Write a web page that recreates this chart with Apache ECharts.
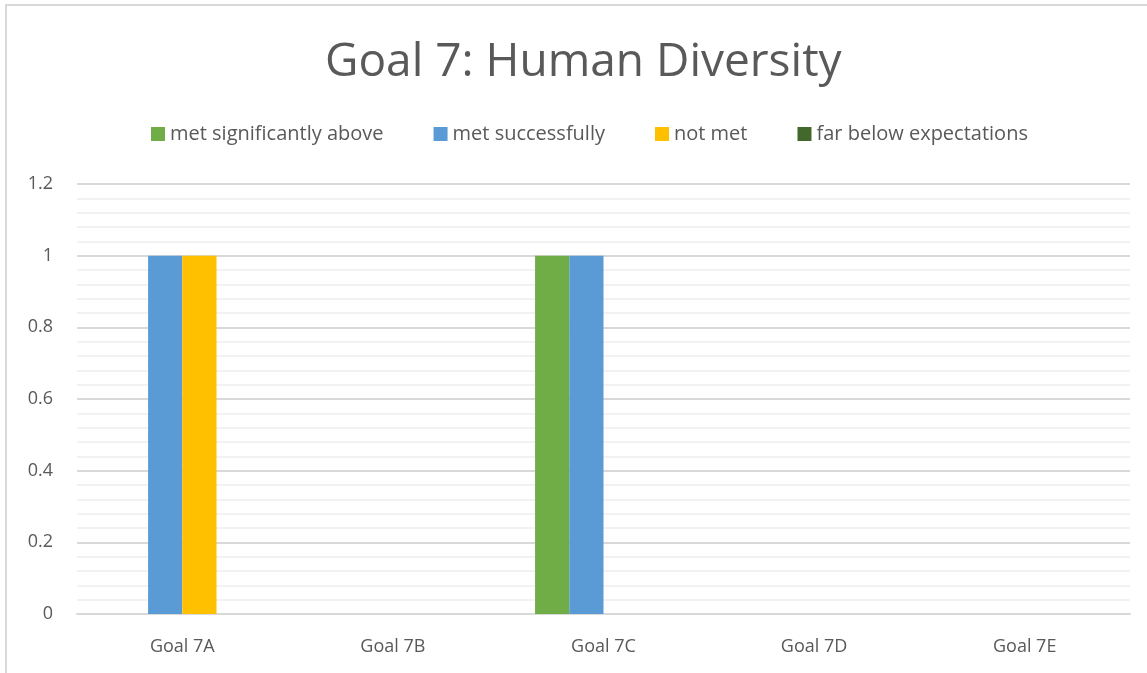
<!DOCTYPE html>
<html>
<head>
<meta charset="utf-8">
<script src="https://cdn.jsdelivr.net/npm/echarts@6/dist/echarts.min.js"></script>
<style>
  html, body { margin: 0; padding: 0; background: #fff; }
  #chart { width: 1147px; height: 673px; }
</style>
</head>
<body>
<div id="chart"></div>
<script>
  // 数据
  var categories = ['Goal 7A', 'Goal 7B', 'Goal 7C', 'Goal 7D', 'Goal 7E']
  var seriesNames = ['met significantly above', 'met successfully', 'not met', 'far below expectations']
  var metAbove = [0, 0, 1, 0, 0]
  var metSuccess = [1, 0, 1, 0, 0]
  var notMet = [1, 0, 0, 0, 0]
  var farBelow = [0, 0, 0, 0, 0]
  var colors = ['#70ad47', '#5b9bd5', '#ffc000', '#43682b']

  var myChart = echarts.init(document.getElementById('chart'))
  var textColor = '#595959'
  var font = 'Open Sans'

  function bar(name, data) {
    return {
      name: name,
      type: 'bar',
      barGap: 0,
      barCategoryGap: '35%',
      data: data
    }
  }

  var option = {
    color: colors,
    animation: false,
    title: {
      text: 'Goal 7: Human Diversity',
      left: 320,
      top: 35,
      textStyle: {
        fontFamily: font,
        fontWeight: 'normal',
        fontSize: 46,
        color: textColor
      }
    },
    legend: {
      top: 119,
      left: 146,
      itemWidth: 14,
      itemHeight: 14,
      itemGap: 50,
      icon: 'rect',
      textStyle: {
        fontFamily: font,
        fontSize: 20,
        color: textColor
      },
      data: seriesNames
    },
    grid: {
      left: 77,
      right: 17,
      top: 184,
      bottom: 59
    },
    xAxis: {
      type: 'category',
      data: categories,
      axisLine: { show: true, lineStyle: { color: '#d9d9d9', width: 2 } },
      axisTick: { show: false },
      axisLabel: {
        margin: 24,
        fontFamily: font,
        fontSize: 18,
        color: textColor
      }
    },
    yAxis: {
      type: 'value',
      min: 0,
      max: 1.2,
      interval: 0.2,
      axisLine: { show: false },
      axisTick: { show: false },
      axisLabel: {
        margin: 24,
        fontFamily: font,
        fontSize: 18,
        color: textColor
      },
      splitLine: { show: true, lineStyle: { color: '#d9d9d9', width: 2 } },
      minorTick: { show: false, splitNumber: 5 },
      minorSplitLine: { show: true, lineStyle: { color: '#f2f2f2', width: 2 } }
    },
    series: [
      bar(seriesNames[0], metAbove),
      bar(seriesNames[1], metSuccess),
      bar(seriesNames[2], notMet),
      bar(seriesNames[3], farBelow)
    ],
    graphic: [{
      type: 'rect',
      shape: { x: 6, y: 5, width: 1160, height: 700 },
      style: { fill: 'none', stroke: '#d9d9d9', lineWidth: 2 },
      silent: true
    }]
  }

  myChart.setOption(option)
</script>
</body>
</html>
